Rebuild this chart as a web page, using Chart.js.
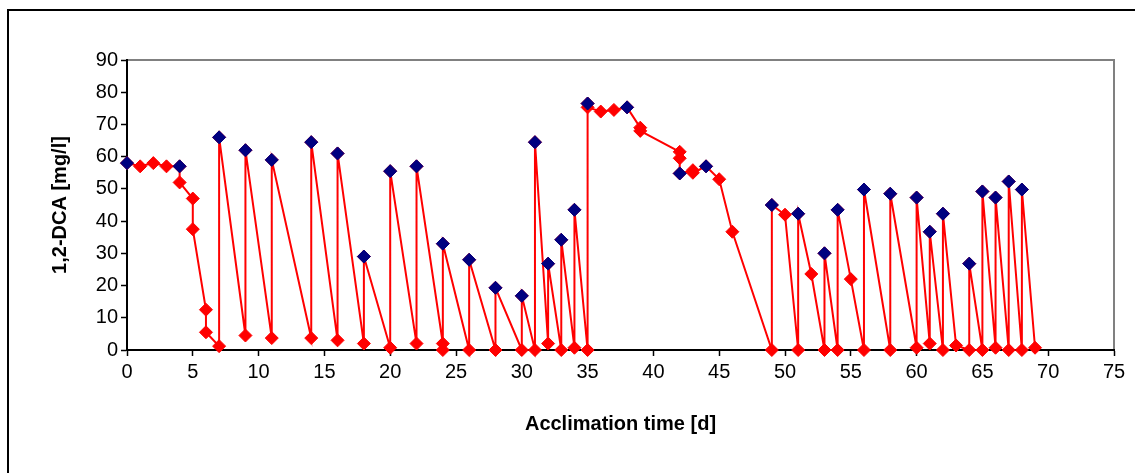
<!DOCTYPE html>
<html>
<head>
<meta charset="utf-8">
<script src="https://cdn.jsdelivr.net/npm/chart.js@4"></script>
<style>
  body { margin: 0; background: #fff; overflow: hidden; }
  #wrap { position: relative; width: 1135px; height: 473px; }
</style>
</head>
<body>
<div id="wrap"><canvas id="chart" width="1135" height="473"></canvas></div>
<script>
// red series: every measurement, in the order the line joins them
const redDays = [
  0, 1, 2, 3, 4, 4, 5, 5, 6, 6,
  7, 7, 9, 9, 11, 11, 14, 14, 16, 16,
  18, 18, 20, 20, 22, 22, 24, 24, 24, 26,
  26, 28, 28, 30, 30, 31, 31, 32, 32, 33,
  33, 34, 34, 35, 35, 35, 36, 37, 38, 39,
  39, 42, 42, 42, 43, 43, 44, 45, 46, 49,
  49, 50, 51, 51, 52, 53, 53, 54, 54, 55,
  56, 56, 58, 58, 60, 60, 61, 61, 62, 62,
  63, 64, 64, 65, 65, 66, 66, 67, 67, 68,
  68, 69
];
const redValues = [
  58, 57, 58, 57, 57, 52, 47, 37.5, 12.5, 5.5,
  1.2, 66, 4.5, 62, 3.7, 59, 3.7, 64.5, 3, 61,
  2, 29, 0.7, 55.5, 2, 57, 2, 0, 33, 0,
  28, 0, 19.3, 0, 16.8, 0, 64.5, 2, 26.8, 0,
  34.2, 0.7, 43.5, 0, 76.5, 75.3, 74, 74.5, 75.3, 69,
  68, 61.5, 59.5, 54.8, 55.8, 55, 57, 53, 36.7, 0,
  45, 42, 0, 42.3, 23.6, 0, 30, 0, 43.5, 22,
  0, 49.8, 0, 48.5, 0.7, 47.3, 2, 36.7, 0, 42.3,
  1.4, 0, 26.8, 0, 49.2, 0.7, 47.3, 0, 52.3, 0,
  49.8, 0.7
];

// blue series: values right after feeding
const blueDays = [0, 4, 7, 9, 11, 14, 16, 18, 20, 22, 24, 26, 28, 30, 31, 32, 33, 34, 35,
  38, 42, 44, 49, 51, 53, 54, 56, 58, 60, 61, 62, 64, 65, 66, 67, 68];
const blueValues = [58, 57, 66, 62, 59, 64.5, 61, 29, 55.5, 57, 33, 28, 19.3, 16.8, 64.5, 26.8, 34.2, 43.5, 76.5,
  75.3, 54.8, 57, 45, 42.3, 30, 43.5, 49.8, 48.5, 47.3, 36.7, 42.3, 26.8, 49.2, 47.3, 52.3, 49.8];

const xTicks = { min: 0, max: 75, step: 5 };
const yTicks = { min: 0, max: 90, step: 10 };

const redPoints = redDays.map((d, i) => ({ x: d, y: redValues[i] }));
const bluePoints = blueDays.map((d, i) => ({ x: d, y: blueValues[i] }));

// outer black box and the gray frame round the plot area
const framePlugin = {
  id: "frame",
  beforeDraw(chart) {
    const { ctx, chartArea } = chart;
    ctx.save();
    ctx.strokeStyle = "#000";
    ctx.lineWidth = 2;
    ctx.strokeRect(8, 10, 1200, 600);
    ctx.strokeStyle = "#808080";
    ctx.lineWidth = 2;
    ctx.strokeRect(chartArea.left, chartArea.top, chartArea.right - chartArea.left, chartArea.bottom - chartArea.top);
    ctx.restore();
  },
};

const tickFont = { family: "'Liberation Sans', Arial, sans-serif", size: 20 };
const titleFont = { family: "'Liberation Sans', Arial, sans-serif", size: 20, weight: "bold" };

new Chart(document.getElementById("chart"), {
  type: "scatter",
  data: {
    datasets: [
      {
        label: "feed",
        data: bluePoints,
        order: 0,
        showLine: false,
        pointStyle: "rectRot",
        pointRadius: 6.5,
        pointHoverRadius: 6.5,
        pointBackgroundColor: "#000080",
        pointBorderColor: "#000080",
        pointBorderWidth: 1,
        clip: false,
      },
      {
        label: "1,2-DCA",
        data: redPoints,
        order: 1,
        showLine: true,
        borderColor: "#ff0000",
        borderWidth: 2,
        tension: 0,
        pointStyle: "rectRot",
        pointRadius: 6.5,
        pointHoverRadius: 6.5,
        pointBackgroundColor: "#ff0000",
        pointBorderColor: "#ff0000",
        pointBorderWidth: 1,
        clip: false,
      },
    ],
  },
  options: {
    responsive: false,
    animation: false,
    layout: { padding: { top: 60, right: 21, left: 0, bottom: 0 } },
    plugins: {
      legend: { display: false },
      tooltip: { enabled: false },
    },
    scales: {
      x: {
        type: "linear",
        min: xTicks.min,
        max: xTicks.max,
        afterFit: (scale) => { scale.height = 123; },
        ticks: { stepSize: xTicks.step, color: "#000", font: tickFont, padding: 4, maxRotation: 0 },
        grid: { drawOnChartArea: false, drawTicks: true, tickLength: 6, color: "#000", tickWidth: 1.5 },
        border: { display: true, color: "#000", width: 2 },
        title: { display: true, text: "Acclimation time [d]", color: "#000", font: titleFont, padding: { top: 0, bottom: 37 } },
      },
      y: {
        min: yTicks.min,
        max: yTicks.max,
        afterFit: (scale) => { scale.width = 127; },
        ticks: { stepSize: yTicks.step, color: "#000", font: tickFont, padding: 3 },
        grid: { drawOnChartArea: false, drawTicks: true, tickLength: 6, color: "#000", tickWidth: 1.5 },
        border: { display: true, color: "#000", width: 2 },
        title: { display: true, text: "1,2-DCA [mg/l]", color: "#000", font: titleFont, padding: { top: 48, bottom: 0 } },
      },
    },
  },
  plugins: [framePlugin],
});
</script>
</body>
</html>
